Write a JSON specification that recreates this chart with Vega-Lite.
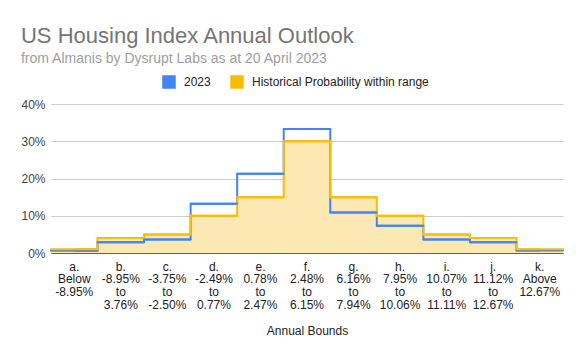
{
  "$schema": "https://vega.github.io/schema/vega-lite/v6.json",
  "width": 512,
  "height": 149,
  "padding": {"left": 20, "top": 25, "right": 20, "bottom": 14},
  "background": "white",
  "title": {
    "text": "US Housing Index Annual Outlook",
    "subtitle": "from Almanis by Dysrupt Labs as at 20 April 2023",
    "anchor": "start",
    "frame": "bounds",
    "font": "Liberation Sans",
    "fontSize": 22,
    "fontWeight": "normal",
    "color": "#757575",
    "subtitleFont": "Liberation Sans",
    "subtitleFontSize": 14,
    "subtitleColor": "#9e9e9e",
    "subtitlePadding": 4,
    "offset": 8
  },
  "data": {
    "values": [
      {"cat": "a.|Below|-8.95%", "2023": 0.006, "Historical Probability within range": 0.01},
      {"cat": "b.|-8.95%|to|3.76%", "2023": 0.029, "Historical Probability within range": 0.04},
      {"cat": "c.|-3.75%|to|-2.50%", "2023": 0.036, "Historical Probability within range": 0.05},
      {"cat": "d.|-2.49%|to|0.77%", "2023": 0.132, "Historical Probability within range": 0.10},
      {"cat": "e.|0.78%|to|2.47%", "2023": 0.213, "Historical Probability within range": 0.15},
      {"cat": "f.|2.48%|to|6.15%", "2023": 0.333, "Historical Probability within range": 0.30},
      {"cat": "g.|6.16%|to|7.94%", "2023": 0.109, "Historical Probability within range": 0.15},
      {"cat": "h.|7.95%|to|10.06%", "2023": 0.073, "Historical Probability within range": 0.10},
      {"cat": "i.|10.07%|to|11.11%", "2023": 0.036, "Historical Probability within range": 0.05},
      {"cat": "j.|11.12%|to|12.67%", "2023": 0.029, "Historical Probability within range": 0.04},
      {"cat": "k.|Above|12.67%", "2023": 0.007, "Historical Probability within range": 0.01}
    ]
  },
  "transform": [
    {"fold": ["2023", "Historical Probability within range"], "as": ["series", "value"]}
  ],
  "encoding": {
    "x": {
      "field": "cat",
      "type": "nominal",
      "sort": null,
      "title": "Annual Bounds",
      "scale": {"paddingInner": 0, "paddingOuter": 0},
      "axis": {
        "labelExpr": "split(datum.value, '|')",
        "labelAngle": 0,
        "labelBaseline": "top",
        "labelLineHeight": 12.7,
        "labelPadding": 8,
        "labelOverlap": false,
        "labelLimit": 200,
        "ticks": false,
        "domainColor": "#333333",
        "domainWidth": 1,
        "labelFont": "Liberation Sans",
        "labelFontSize": 12,
        "labelColor": "#222222",
        "titleFont": "Liberation Sans",
        "titleFontSize": 12,
        "titleFontWeight": "normal",
        "titleColor": "#222222",
        "titlePadding": 15
      }
    },
    "y": {
      "field": "value",
      "type": "quantitative",
      "scale": {"domain": [0, 0.4]},
      "axis": {
        "values": [0, 0.1, 0.2, 0.3, 0.4],
        "format": ".0%",
        "title": null,
        "domain": false,
        "ticks": false,
        "tickSize": 0,
        "labelPadding": 6,
        "gridColor": "#cccccc",
        "labelFont": "Liberation Sans",
        "labelFontSize": 12,
        "labelColor": "#444444"
      }
    }
  },
  "layer": [
    {
      "transform": [{"filter": "datum.series === 'Historical Probability within range'"}],
      "mark": {"type": "bar", "fill": "#fce8b2", "stroke": "#fce8b2", "strokeWidth": 0.5}
    },
    {
      "mark": {"type": "line", "interpolate": "step", "strokeWidth": 2, "strokeJoin": "round"},
      "encoding": {
        "color": {
          "field": "series",
          "type": "nominal",
          "scale": {"domain": ["2023", "Historical Probability within range"], "range": ["#4285f4", "#fbbc04"]},
          "legend": {
            "orient": "none",
            "legendX": 111,
            "legendY": -29,
            "direction": "horizontal",
            "title": null,
            "symbolType": "square",
            "symbolSize": 144,
            "symbolOffset": 0,
            "labelFont": "Liberation Sans",
            "labelFontSize": 12,
            "labelColor": "#222222",
            "labelLimit": 0,
            "labelOffset": 8,
            "columnPadding": 17,
            "encode": {
              "symbols": {
                "update": {
                  "fill": {"scale": "color", "field": "value"},
                  "stroke": {"value": "transparent"},
                  "shape": {"value": "square"}
                }
              }
            }
          }
        }
      }
    },
    {
      "mark": {"type": "rule", "strokeWidth": 2, "strokeCap": "round"},
      "encoding": {
        "x": {"field": "cat", "type": "nominal", "sort": null, "bandPosition": 0},
        "x2": {"field": "cat", "bandPosition": 1},
        "color": {"field": "series", "type": "nominal"}
      }
    }
  ],
  "config": {
    "view": {"stroke": null}
  }
}
